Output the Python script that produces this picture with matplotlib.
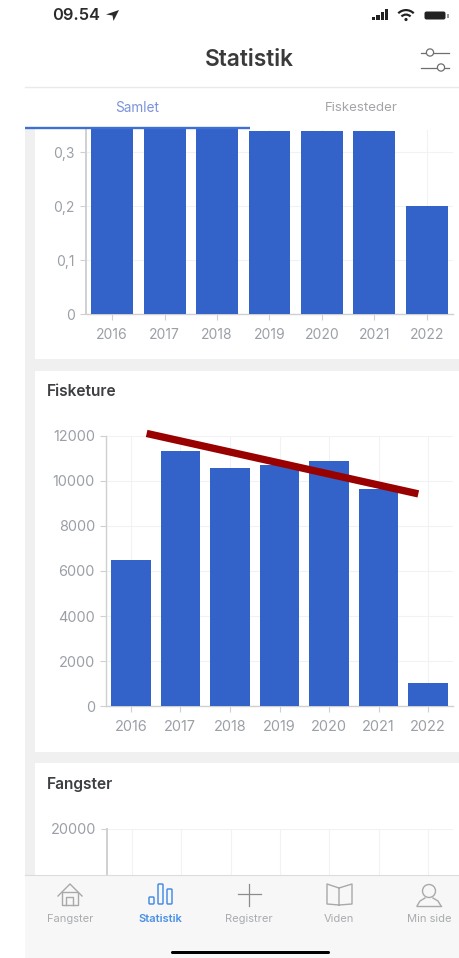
import matplotlib
matplotlib.use('Agg')
import matplotlib.pyplot as plt
from matplotlib.patches import Rectangle, FancyBboxPatch, Circle, Wedge, Polygon

plt.rcParams['font.family'] = ['Inter', 'DejaVu Sans']

W = 459
H = 958

# data
years = ['2016', '2017', '2018', '2019', '2020', '2021', '2022']
top_values = [0.345, 0.345, 0.345, 0.34, 0.34, 0.34, 0.2]
top_ticks = [0, 0.1, 0.2, 0.3]
top_labels = ['0', '0,1', '0,2', '0,3']
trip_values = [6500, 11300, 10550, 10700, 10900, 9650, 1050]
trip_ticks = [0, 2000, 4000, 6000, 8000, 10000, 12000]
catch_ticks = [20000]
trend_x = [0.32, 5.8]
trend_y = [12100, 9420]
tab_names = ['Fangster', 'Statistik', 'Registrer', 'Viden', 'Min side']

BLUE = '#3363c9'
TICK = '#9b9fa6'
GRID = '#f1f2f4'
AXIS = '#cfd0d2'
PANEL = '#f0f0f0'


def px_axes(fig, left, top, right, bottom, z):
    return fig.add_axes([left / W, 1 - bottom / H, (right - left) / W, (bottom - top) / H], zorder=z)


def style(ax, ticks, labels, ylim, show_x=True, size=10):
    ax.set_xlim(-0.5, 6.5)
    ax.set_ylim(*ylim)
    ax.patch.set_alpha(0)
    ax.set_yticks(ticks)
    ax.set_yticklabels(labels)
    ax.set_xticks(range(len(years)))
    ax.set_xticklabels(years if show_x else [])
    ax.grid(True, color=GRID, lw=0.8)
    ax.set_axisbelow(True)
    for s in ['top', 'right']:
        ax.spines[s].set_visible(False)
    for s in ['left', 'bottom']:
        ax.spines[s].set_color(AXIS)
        ax.spines[s].set_linewidth(1.0)
    ax.tick_params(axis='both', colors=TICK, labelsize=size, color=AXIS, length=4, width=0.8, pad=4)
    ax.tick_params(axis='x', pad=6)


fig = plt.figure(figsize=(W / 100, H / 100), dpi=100, facecolor='white')

# background of the phone screen, in pixels
bg = fig.add_axes([0, 0, 1, 1], zorder=0)
bg.set_xlim(0, W)
bg.set_ylim(H, 0)
bg.axis('off')
bg.add_patch(Rectangle((25, 128), W - 25, 747, fc=PANEL, ec='none'))
bg.add_patch(Rectangle((35, 128), W - 35, 231, fc='white', ec='none'))
bg.add_patch(Rectangle((35, 371), W - 35, 381, fc='white', ec='none'))
bg.add_patch(Rectangle((35, 763), W - 35, 112, fc='white', ec='none'))
bg.text(47, 392, 'Fisketure', fontsize=11.2, fontweight='semibold', color='#3d3f42', va='center')
bg.text(47, 784, 'Fangster', fontsize=11.2, fontweight='semibold', color='#3d3f42', va='center')

# top chart
ax1 = px_axes(fig, 86, 130, 453, 314, 1)
ax1.bar(range(len(years)), top_values, width=0.8, color=BLUE, zorder=3, clip_on=False)
style(ax1, top_ticks, top_labels, (0, 0.341))
ax1.spines['left'].set_linewidth(1.4)

# fishing trips chart
ax2 = px_axes(fig, 106, 435.7, 453, 706.3, 1)
ax2.bar(range(len(years)), trip_values, width=0.8, color=BLUE, zorder=3)
style(ax2, trip_ticks, [str(t) for t in trip_ticks], (0, 12000), size=10.4)
ax2.plot(trend_x, trend_y, color='#990000', lw=5.3, solid_capstyle='butt', zorder=5, clip_on=False)

# catches chart, cut off by the tab bar
ax3 = px_axes(fig, 107, 828.7, 453, 880, 1)
style(ax3, catch_ticks, [str(t) for t in catch_ticks], (17000, 20000), show_x=False, size=10.4)
ax3.spines['bottom'].set_visible(False)
ax3.tick_params(axis='x', length=0)
ax3.spines['left'].set_linewidth(1.4)

# chrome on top
ov = fig.add_axes([0, 0, 1, 1], zorder=3)
ov.set_xlim(0, W)
ov.set_ylim(H, 0)
ov.axis('off')
ov.patch.set_alpha(0)

# status bar
ov.text(52, 15, '09.54', fontsize=11.8, fontweight='semibold', color='#2b2b2b', va='center')
ov.add_patch(Polygon([(106, 14.5), (119, 10), (113.5, 21), (112.5, 15.5)], closed=True, fc='#2b2b2b', ec='none'))
for i, h in enumerate([3, 5, 8, 11]):
    ov.add_patch(Rectangle((372 + i * 4.4, 20 - h), 3.2, h, fc='#222222', ec='none'))
ov.add_patch(Wedge((406, 21), 12, 225, 315, width=2.2, fc='#222222', ec='none'))
ov.add_patch(Wedge((406, 21), 7.5, 225, 315, width=2.2, fc='#222222', ec='none'))
ov.add_patch(Circle((406, 19.5), 1.6, fc='#222222', ec='none'))
ov.add_patch(FancyBboxPatch((425, 12), 20, 7, boxstyle='round,pad=0.5,rounding_size=2', fc='#222222', ec='none'))
ov.add_patch(Rectangle((447, 13.5), 1.5, 4, fc='#999999', ec='none'))

# header
ov.text(249.5, 59.5, 'Statistik', fontsize=16.4, fontweight='semibold', color='#3a3a3c', ha='center', va='center')
ov.plot([421, 449], [52.5, 52.5], color='#6d6f72', lw=0.9)
ov.plot([421, 449], [67.5, 67.5], color='#6d6f72', lw=0.9)
ov.add_patch(Circle((430, 52.5), 3.6, fc='white', ec='#6d6f72', lw=0.9, zorder=4))
ov.add_patch(Circle((441, 67.5), 3.6, fc='white', ec='#6d6f72', lw=0.9, zorder=4))
ov.plot([25, W], [87, 87], color='#e9e9e9', lw=1)

# tabs
ov.text(137, 108, 'Samlet', fontsize=9.8, color='#7b93d8', ha='center', va='center')
ov.text(361.5, 108, 'Fiskesteder', fontsize=9.6, color='#a3a5a8', ha='center', va='center')
ov.plot([25, 250], [127.5, 127.5], color='#3f6fd1', lw=1.7, solid_capstyle='butt')

# bottom tab bar
ov.add_patch(Rectangle((25, 875), W - 25, H - 875, fc='#f7f7f7', ec='none'))
ov.plot([25, W], [874.5, 874.5], color='#dcdcdc', lw=0.8)
ICON = '#a8a9ab'
tab_x = [70, 160, 249, 339, 429]
tab_c = ['#a9abae', '#4a8fe6', '#a9abae', '#a9abae', '#a9abae']
for x, name, c in zip(tab_x, tab_names, tab_c):
    ov.text(x, 919, name, fontsize=8, color=c, ha='center', va='center',
            fontweight='semibold' if name == 'Statistik' else 'normal')
# home
ov.plot([58, 70, 82], [896, 884, 896], color=ICON, lw=1)
ov.plot([62, 62, 78, 78, 62], [892, 905, 905, 892, 892], color=ICON, lw=1)
ov.plot([66, 66, 73, 73], [905, 897, 897, 905], color=ICON, lw=1)
# bars
for x, y in [(149, 897), (158, 884), (167, 889)]:
    ov.add_patch(FancyBboxPatch((x, y), 5, 904 - y, boxstyle='round,pad=0,rounding_size=1', fc='none', ec='#4a8fe6', lw=1.1))
# plus
ov.plot([249, 249], [884, 906], color='#8b8c8e', lw=0.9)
ov.plot([238, 261], [894, 894], color='#8b8c8e', lw=0.9)
# book
ov.plot([339, 327, 327, 339, 352, 352, 339, 339], [888, 884, 904, 905, 904, 884, 888, 905], color=ICON, lw=1)
# person
ov.add_patch(Circle((429, 891), 6.5, fc='none', ec=ICON, lw=1))
ov.plot([417, 420, 425], [906, 901, 898], color=ICON, lw=1)
ov.plot([441, 438, 433], [906, 901, 898], color=ICON, lw=1)
ov.plot([417, 441], [906, 906], color=ICON, lw=1)
# home indicator
ov.add_patch(FancyBboxPatch((171, 951), 159, 3, boxstyle='round,pad=0,rounding_size=1.5', fc='black', ec='none'))

fig.savefig('out.png', dpi=100)
